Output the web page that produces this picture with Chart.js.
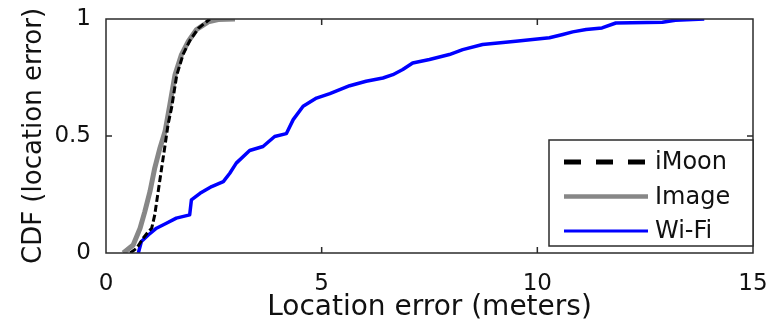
<!DOCTYPE html>
<html>
<head>
<meta charset="utf-8">
<script src="https://cdn.jsdelivr.net/npm/chart.js@4.4.0/dist/chart.umd.min.js"></script>
<style>
  html, body { margin: 0; padding: 0; background: #fff; }
  #wrap { width: 773px; height: 319px; }
</style>
</head>
<body>
<div id="wrap"><canvas id="cdf" width="773" height="319"></canvas></div>
<script>
// CDF of location error
const imoonX = [0.56, 0.71, 0.86, 0.98, 1.06, 1.13, 1.21, 1.29, 1.37, 1.44, 1.52, 1.64, 1.79, 1.95, 2.14, 2.41];
const imoonY = [0, 0.02, 0.063, 0.091, 0.106, 0.163, 0.263, 0.363, 0.462, 0.55, 0.62, 0.76, 0.85, 0.91, 0.96, 1.0];

const imageX = [0.40, 0.63, 0.79, 0.90, 1.02, 1.13, 1.25, 1.37, 1.48, 1.60, 1.75, 1.91, 2.10, 2.37, 2.60, 2.99];
const imageY = [0, 0.034, 0.106, 0.177, 0.263, 0.363, 0.448, 0.52, 0.634, 0.762, 0.848, 0.905, 0.955, 0.988, 0.998, 1.0];

const wifiX = [0.75, 0.82, 0.98, 1.17, 1.40, 1.63, 1.94, 1.98, 2.18, 2.45, 2.72, 2.87, 3.02, 3.33, 3.64, 3.91, 4.18, 4.34, 4.57, 4.88,
               5.19, 5.65, 6.03, 6.42, 6.65, 6.88, 7.11, 7.50, 7.96, 8.27, 8.73, 9.50, 10.28, 10.59, 10.82, 11.13, 11.50, 11.82, 12.90, 13.20, 13.87];
const wifiY = [0, 0.049, 0.077, 0.106, 0.127, 0.149, 0.163, 0.227, 0.255, 0.284, 0.305, 0.341, 0.384, 0.438, 0.455, 0.498, 0.51, 0.57, 0.627, 0.662,
               0.681, 0.715, 0.734, 0.748, 0.762, 0.784, 0.812, 0.827, 0.848, 0.869, 0.891, 0.905, 0.92, 0.934, 0.945, 0.955, 0.962, 0.983, 0.986, 0.995, 1.0];

const seriesNames = ['iMoon', 'Image', 'Wi-Fi'];
const xTicks = [0, 5, 10, 15];
const yTicks = [0, 0.5, 1];

const FONT = '"DejaVu Sans", "Liberation Sans", sans-serif';

function toPoints(xs, ys) {
    return xs.map((x, i) => ({ x: x, y: ys[i] }));
}

// box round the axes plus the inward tick marks
const framePlugin = {
    id: 'frame',
    afterDatasetsDraw(chart) {
        const { ctx, chartArea: a, scales: { x, y } } = chart;
        ctx.save();
        ctx.strokeStyle = '#2b2b2b';
        ctx.lineWidth = 1.5;
        ctx.strokeRect(a.left, a.top, a.right - a.left, a.bottom - a.top);
        ctx.beginPath();
        xTicks.forEach(v => {
            const px = x.getPixelForValue(v);
            if (px <= a.left + 1 || px >= a.right - 1) return;
            ctx.moveTo(px, a.bottom); ctx.lineTo(px, a.bottom - 6);
            ctx.moveTo(px, a.top); ctx.lineTo(px, a.top + 6);
        });
        yTicks.forEach(v => {
            const py = y.getPixelForValue(v);
            if (py <= a.top + 1 || py >= a.bottom - 1) return;
            ctx.moveTo(a.left, py); ctx.lineTo(a.left + 6, py);
            ctx.moveTo(a.right, py); ctx.lineTo(a.right - 6, py);
        });
        ctx.stroke();
        ctx.restore();
    }
};

// matlab style legend box in the lower right corner
const legendBox = {
    id: 'legendBox',
    afterDraw(chart) {
        const { ctx, chartArea: a } = chart;
        const w = 204, h = 106;
        const left = a.right - w, top = a.top + 121;
        ctx.save();
        ctx.fillStyle = '#fff';
        ctx.fillRect(left, top, w, h);
        ctx.strokeStyle = '#2b2b2b';
        ctx.lineWidth = 1.5;
        ctx.strokeRect(left, top, w, h);
        chart.data.datasets.forEach((ds, i) => {
            const cy = top + 22 + i * 34.5;
            ctx.beginPath();
            ctx.strokeStyle = ds.borderColor;
            ctx.lineWidth = ds.legendWidth;
            ctx.setLineDash(ds.legendDash || []);
            ctx.moveTo(left + 15, cy);
            ctx.lineTo(left + 99, cy);
            ctx.stroke();
            ctx.setLineDash([]);
            ctx.fillStyle = '#111';
            ctx.font = '24px ' + FONT;
            ctx.textBaseline = 'middle';
            ctx.textAlign = 'left';
            ctx.fillText(ds.label, left + 106, cy + 1);
        });
        ctx.restore();
    }
};

new Chart(document.getElementById('cdf'), {
    type: 'line',
    data: {
        datasets: [
            {
                label: seriesNames[0],
                data: toPoints(imoonX, imoonY),
                borderColor: '#000000',
                borderWidth: 3,
                borderDash: [7, 3],
                legendWidth: 5,
                legendDash: [17, 15]
            },
            {
                label: seriesNames[1],
                data: toPoints(imageX, imageY),
                borderColor: '#878787',
                borderWidth: 5,
                legendWidth: 4.5
            },
            {
                label: seriesNames[2],
                data: toPoints(wifiX, wifiY),
                borderColor: '#0000ff',
                borderWidth: 3.5,
                legendWidth: 3
            }
        ]
    },
    options: {
        responsive: false,
        animation: false,
        devicePixelRatio: 1,
        layout: { padding: { left: 0, right: 20, top: 19, bottom: 0 } },
        elements: {
            point: { radius: 0 },
            line: { tension: 0, fill: false, borderJoinStyle: 'round' }
        },
        plugins: {
            legend: { display: false },
            tooltip: { enabled: false }
        },
        scales: {
            x: {
                type: 'linear',
                min: 0,
                max: 15,
                afterBuildTicks: s => { s.ticks = xTicks.map(v => ({ value: v })); },
                ticks: { color: '#111', font: { family: FONT, size: 23 }, padding: 17, maxRotation: 0, callback: v => String(v) },
                grid: { display: false, drawTicks: false },
                border: { display: false },
                title: {
                    display: true,
                    text: 'Location error (meters)',
                    color: '#111',
                    font: { family: FONT, size: 28, lineHeight: 1 },
                    padding: { top: 0, bottom: -3 }
                },
                afterFit: s => {
                    s.height = 66;
                    s.paddingLeft = 0;
                    s.paddingRight = 0;
                }
            },
            y: {
                type: 'linear',
                min: 0,
                max: 1,
                afterBuildTicks: s => { s.ticks = yTicks.map(v => ({ value: v })); },
                ticks: { color: '#111', font: { family: FONT, size: 23 }, padding: 15, callback: v => String(v) },
                grid: { display: false, drawTicks: false },
                border: { display: false },
                title: {
                    display: true,
                    text: 'CDF (location error)',
                    color: '#111',
                    font: { family: FONT, size: 26, lineHeight: 1 },
                    padding: { top: 21, bottom: 0 }
                },
                afterFit: s => {
                    s.width = 106;
                    s.paddingTop = 0;
                    s.paddingBottom = 0;
                }
            }
        }
    },
    plugins: [framePlugin, legendBox]
});
</script>
</body>
</html>
